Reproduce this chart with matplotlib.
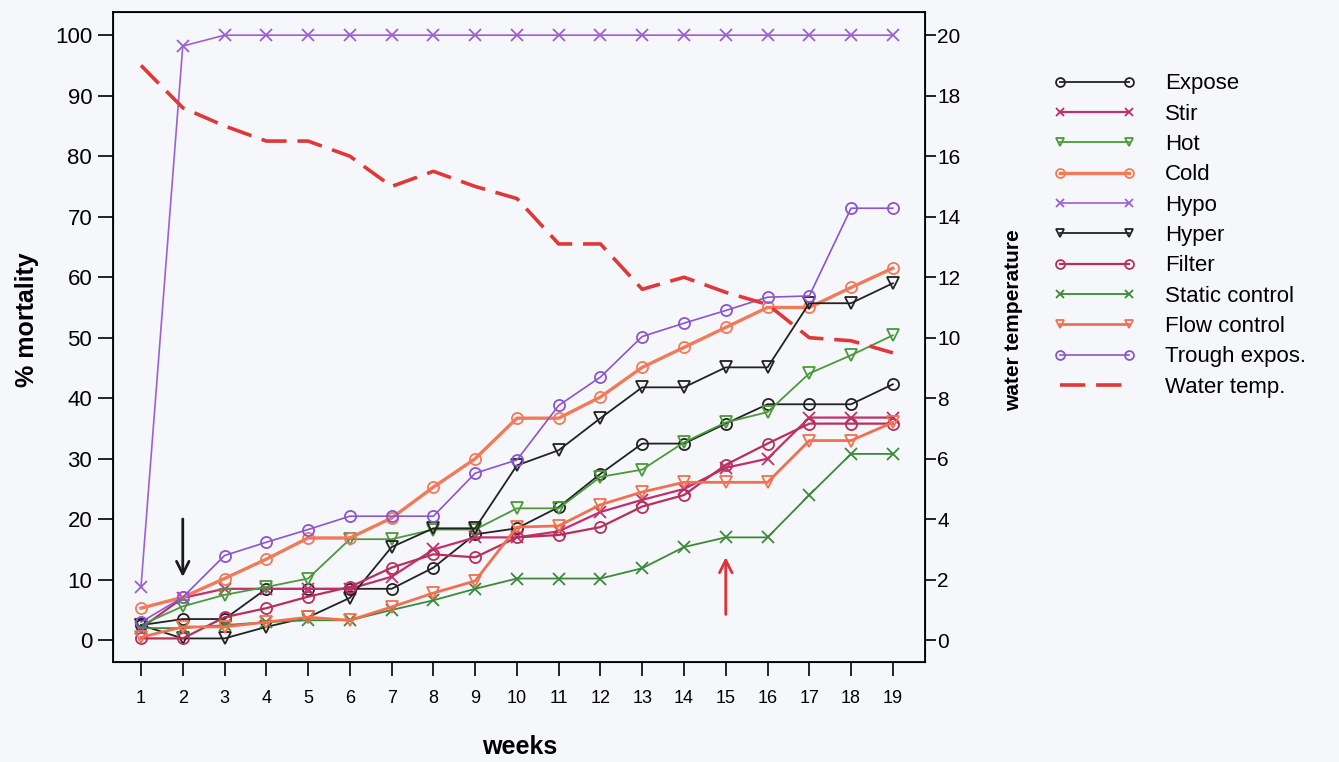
import numpy as np
import matplotlib.pyplot as plt

plt.rcParams['font.family'] = ['Liberation Sans', 'DejaVu Sans']

weeks = np.arange(1, 20)

expose = [2.5, 3.5, 3.5, 8.5, 8.5, 8.5, 8.5, 12, 17.5, 18.5, 22, 27.5, 32.5, 32.5, 35.8, 39, 39, 39, 42.3]
stir = [2, 7, 8.5, 8.5, 8.5, 8.5, 10.5, 15, 17, 17, 18, 21.2, 23.2, 25, 28.5, 30, 36.8, 36.8, 36.8]
hot = [2.5, 5.6, 7.5, 8.8, 10.2, 16.7, 16.7, 18.3, 18.3, 21.8, 21.8, 27, 28.2, 32.7, 36, 37.7, 44.1, 47.1, 50.4]
cold = [5.3, 7.1, 10.2, 13.4, 16.9, 16.9, 20.2, 25.3, 30, 36.7, 36.7, 40.2, 45.1, 48.4, 51.7, 55, 55, 58.3, 61.5]
hypo = [8.8, 98.2, 100, 100, 100, 100, 100, 100, 100, 100, 100, 100, 100, 100, 100, 100, 100, 100, 100]
hyper = [2.5, 0.3, 0.3, 2.2, 3.8, 7, 15.4, 18.5, 18.5, 28.9, 31.4, 36.7, 41.8, 41.8, 45.1, 45.1, 55.7, 55.7, 59]
filt = [0.3, 0.3, 3.8, 5.3, 7.2, 8.8, 12, 14.2, 13.7, 17, 17.4, 18.7, 22.1, 24, 29, 32.5, 35.8, 35.8, 35.8]
static_ctrl = [2, 2, 2.5, 3, 3.3, 3.3, 5, 6.6, 8.5, 10.2, 10.2, 10.2, 11.9, 15.4, 17, 17, 24, 30.8, 30.8]
flow_ctrl = [0.5, 2.2, 2.2, 3, 3.8, 3.3, 5.5, 7.8, 9.8, 18.7, 18.9, 22.4, 24.5, 26.1, 26.1, 26.1, 33, 33, 36]
trough = [3, 7.1, 14, 16.2, 18.3, 20.5, 20.5, 20.5, 27.6, 29.8, 38.8, 43.5, 50.2, 52.4, 54.5, 56.7, 56.9, 71.4, 71.4]
water_temp = [19, 17.6, 17.0, 16.5, 16.5, 16.0, 15.0, 15.5, 15.0, 14.6, 13.1, 13.1, 11.6, 12.0, 11.5, 11.1, 10.0, 9.9, 9.5]

# (label, data, colour, marker, line width)
series = [
    ('Expose', expose, '#222222', 'o', 1.3),
    ('Stir', stir, '#c0306a', 'x', 1.6),
    ('Hot', hot, '#4a9a3a', 'v', 1.3),
    ('Cold', cold, '#f27a58', 'o', 2.4),
    ('Hypo', hypo, '#9a60d8', 'x', 1.2),
    ('Hyper', hyper, '#222222', 'v', 1.3),
    ('Filter', filt, '#b8305a', 'o', 1.6),
    ('Static control', static_ctrl, '#3a8a3a', 'x', 1.3),
    ('Flow control', flow_ctrl, '#f27050', 'v', 2.0),
    ('Trough expos.', trough, '#8a55d0', 'o', 1.2),
]

# arrows: (week, tail value, head value, colour)
arrows = [(2, 20.5, 10.0, '#1a1a1a'), (15, 3.8, 14.2, '#e0303a')]

bg = '#f6f7fb'
fig = plt.figure(figsize=(13.39, 7.62), dpi=100, facecolor=bg)
ax = fig.add_axes([0.0844, 0.1312, 0.6064, 0.8528])
ax.set_facecolor(bg)

handles = []
for label, data, col, mk, lw in series:
    h, = ax.plot(weeks, data, color=col, lw=lw, marker=mk, markersize=8,
                 markerfacecolor='none', markeredgecolor=col, markeredgewidth=1.3,
                 label=label)
    handles.append(h)

ax.set_xlim(0.33, 19.77)
ax.set_ylim(-3.6, 103.8)
ax.set_xticks(weeks)
ax.set_yticks(np.arange(0, 101, 10))
ax.tick_params(axis='x', direction='out', length=10, width=1.2, labelsize=13, pad=10)
ax.tick_params(axis='y', direction='out', length=11, width=1.2, labelsize=16, pad=4)
for s in ax.spines.values():
    s.set_linewidth(1.3)

ax2 = ax.twinx()
ax2.set_ylim(-0.72, 20.76)
ax2.set_yticks(np.arange(0, 21, 2))
ax2.tick_params(axis='y', direction='out', length=8, width=1.2, labelsize=15, pad=1)
wt, = ax2.plot(weeks, water_temp, color='#e03838', lw=2.6, dashes=(7, 3), label='Water temp.')
handles.append(wt)

for wk, y0, y1, col in arrows:
    ax.annotate('', xy=(wk, y1), xytext=(wk, y0),
                arrowprops=dict(arrowstyle='->,head_length=0.9,head_width=0.45',
                                color=col, lw=2))

fig.text(0.020, 0.58, '% mortality', rotation=90, fontsize=18, fontweight='bold',
         ha='center', va='center')
fig.text(0.388, 0.02, 'weeks', fontsize=18, fontweight='bold', ha='center', va='center')
fig.text(0.757, 0.58, 'water temperature', rotation=90, fontsize=15, fontweight='bold',
         ha='center', va='center')

fig.legend(handles=handles, loc='upper left', bbox_to_anchor=(0.772, 0.93),
           frameon=False, numpoints=2, fontsize=16, handlelength=3.7,
           handletextpad=1.3, labelspacing=0.42, markerscale=0.8)

fig.savefig('out.png', dpi=100, facecolor=bg)
